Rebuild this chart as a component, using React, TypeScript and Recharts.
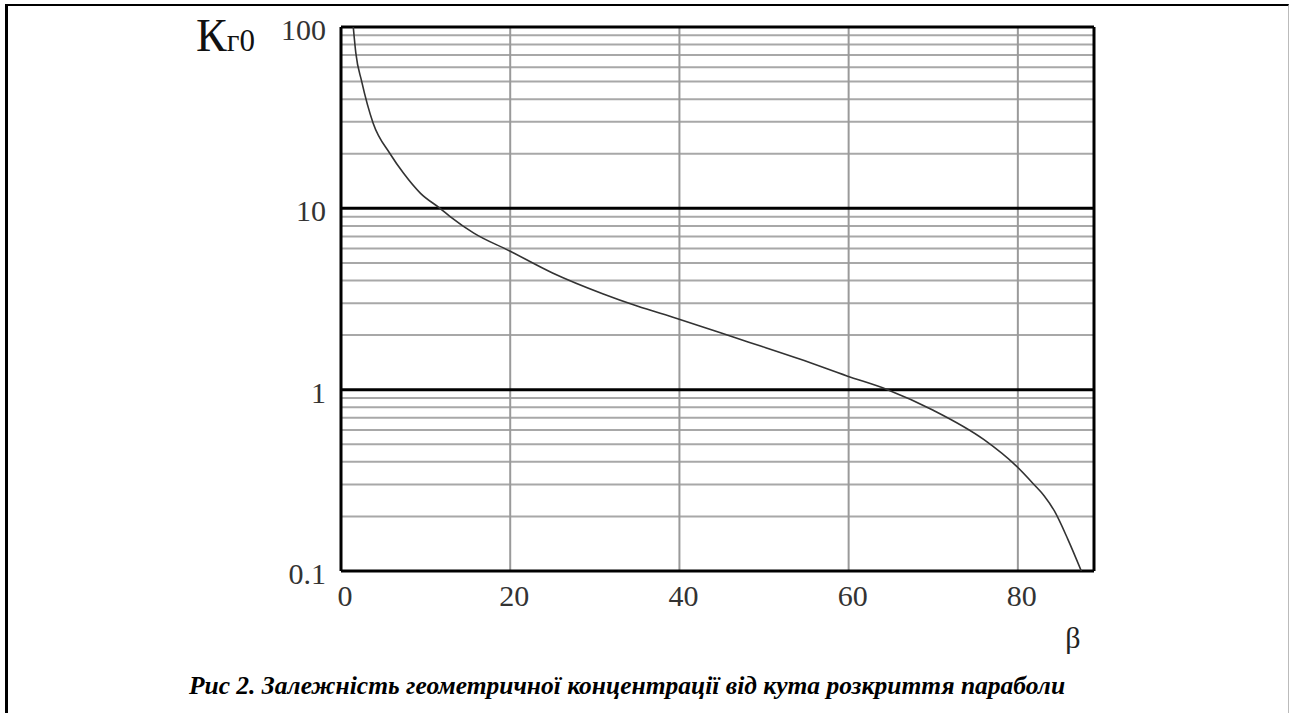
import { Line, LineChart, ReferenceLine, XAxis, YAxis } from 'recharts';

// β (degrees) and K_г0
const BETA = [
  1.45, 1.75, 2.45, 3.8, 5.8, 7.4, 9.4, 11.7, 12.9, 15.7, 20, 25, 31, 35, 39.7,
  42.5, 46.8, 49.6, 54.3, 59.8, 64.6, 70, 76, 79.8, 81.9, 83.1, 84.3, 85.9, 87.5,
];
const K_G0 = [
  100, 72, 50, 29.5, 20, 15.6, 12.1, 10, 9.0, 7.3, 5.8, 4.4, 3.37, 2.89, 2.47,
  2.24, 1.92, 1.74, 1.47, 1.19, 1.0, 0.77, 0.53, 0.38, 0.3, 0.26, 0.215, 0.15, 0.1,
];

const X_TICKS = [0, 20, 40, 60, 80];
const X_GRID = [20, 40, 60, 80];
const Y_TICKS = [0.1, 1, 10, 100];
const Y_LABELS = ['0.1', '1', '10', '100'];
const Y_MAJOR = [1, 10];
const Y_MINOR = [0.1, 1, 10].flatMap((d) => [2, 3, 4, 5, 6, 7, 8, 9].map((m) => +(m * d).toFixed(2)));

const X_MAX = 89;

const DATA = BETA.map((b, i) => ({ beta: b, k: K_G0[i] }));

const SERIF = "'Liberation Serif', 'Times New Roman', 'DejaVu Serif', serif";

function YTick(props: any) {
  const { x, y, payload } = props;
  const i = Y_TICKS.indexOf(payload.value);
  return (
    <text x={x} y={y} dy={13} textAnchor="end" fontSize={30} style={{ fontFamily: SERIF }} fill="#333">
      {i >= 0 ? Y_LABELS[i] : payload.value}
    </text>
  );
}

function XTick(props: any) {
  const { x, y, payload } = props;
  return (
    <text x={x + 4} y={y + 35} textAnchor="middle" fontSize={30} style={{ fontFamily: SERIF }} fill="#333">
      {payload.value}
    </text>
  );
}

export default function App() {
  return (
    <div style={{ position: 'absolute', left: 0, top: 0, width: 1291, height: 713, background: '#fff', overflow: 'hidden', fontFamily: SERIF }}>
      <div
        style={{
          position: 'absolute',
          left: 5,
          top: 4,
          width: 1280,
          height: 760,
          borderTop: '2px solid #000',
          borderLeft: '3px solid #000',
          borderRight: '1px solid #bbb',
        }}
      />
      <div style={{ position: 'absolute', left: 0, top: 0 }}>
        <LineChart width={1291} height={713} data={DATA} margin={{ top: 27, right: 197, bottom: 112, left: 301 }}>
          <XAxis
            type="number"
            dataKey="beta"
            domain={[0, X_MAX]}
            ticks={X_TICKS}
            allowDataOverflow
            axisLine={false}
            tickLine={false}
            tickSize={0}
            tickMargin={0}
            height={30}
            tick={<XTick />}
          />
          <YAxis
            scale="log"
            domain={[0.1, 100]}
            ticks={Y_TICKS}
            allowDataOverflow
            axisLine={false}
            tickLine={false}
            tickSize={0}
            tickMargin={15}
            width={40}
            tick={<YTick />}
          />
          {Y_MINOR.map((v) => (
            <ReferenceLine key={'m' + v} y={v} stroke="#a8a8a8" strokeWidth={2} />
          ))}
          {X_GRID.map((v) => (
            <ReferenceLine key={'x' + v} x={v} stroke="#9a9a9a" strokeWidth={2} />
          ))}
          {Y_MAJOR.map((v) => (
            <ReferenceLine key={'M' + v} y={v} stroke="#000" strokeWidth={3} />
          ))}
          <ReferenceLine y={100} stroke="#000" strokeWidth={3} />
          <ReferenceLine y={0.1} stroke="#000" strokeWidth={3} />
          <ReferenceLine x={0} stroke="#000" strokeWidth={3} />
          <ReferenceLine x={X_MAX} stroke="#000" strokeWidth={3} />
          <Line
            type="monotone"
            dataKey="k"
            stroke="#333"
            strokeWidth={1.6}
            dot={false}
            isAnimationActive={false}
          />
          <text x={196} y={51} style={{ fontFamily: SERIF }} fill="#111">
            <tspan fontSize={46}>К</tspan>
            <tspan fontSize={31}>г0</tspan>
          </text>
          <text x={1073} y={648} textAnchor="middle" fontSize={30} style={{ fontFamily: SERIF }} fill="#222">
            β
          </text>
          <text
            x={627}
            y={694}
            textAnchor="middle"
            fontSize={25.5}
            fontWeight="bold"
            fontStyle="italic"
            style={{ fontFamily: SERIF }}
            fill="#000"
          >
            Рис 2. Залежність геометричної концентрації від кута розкриття параболи
          </text>
        </LineChart>
      </div>
    </div>
  );
}
